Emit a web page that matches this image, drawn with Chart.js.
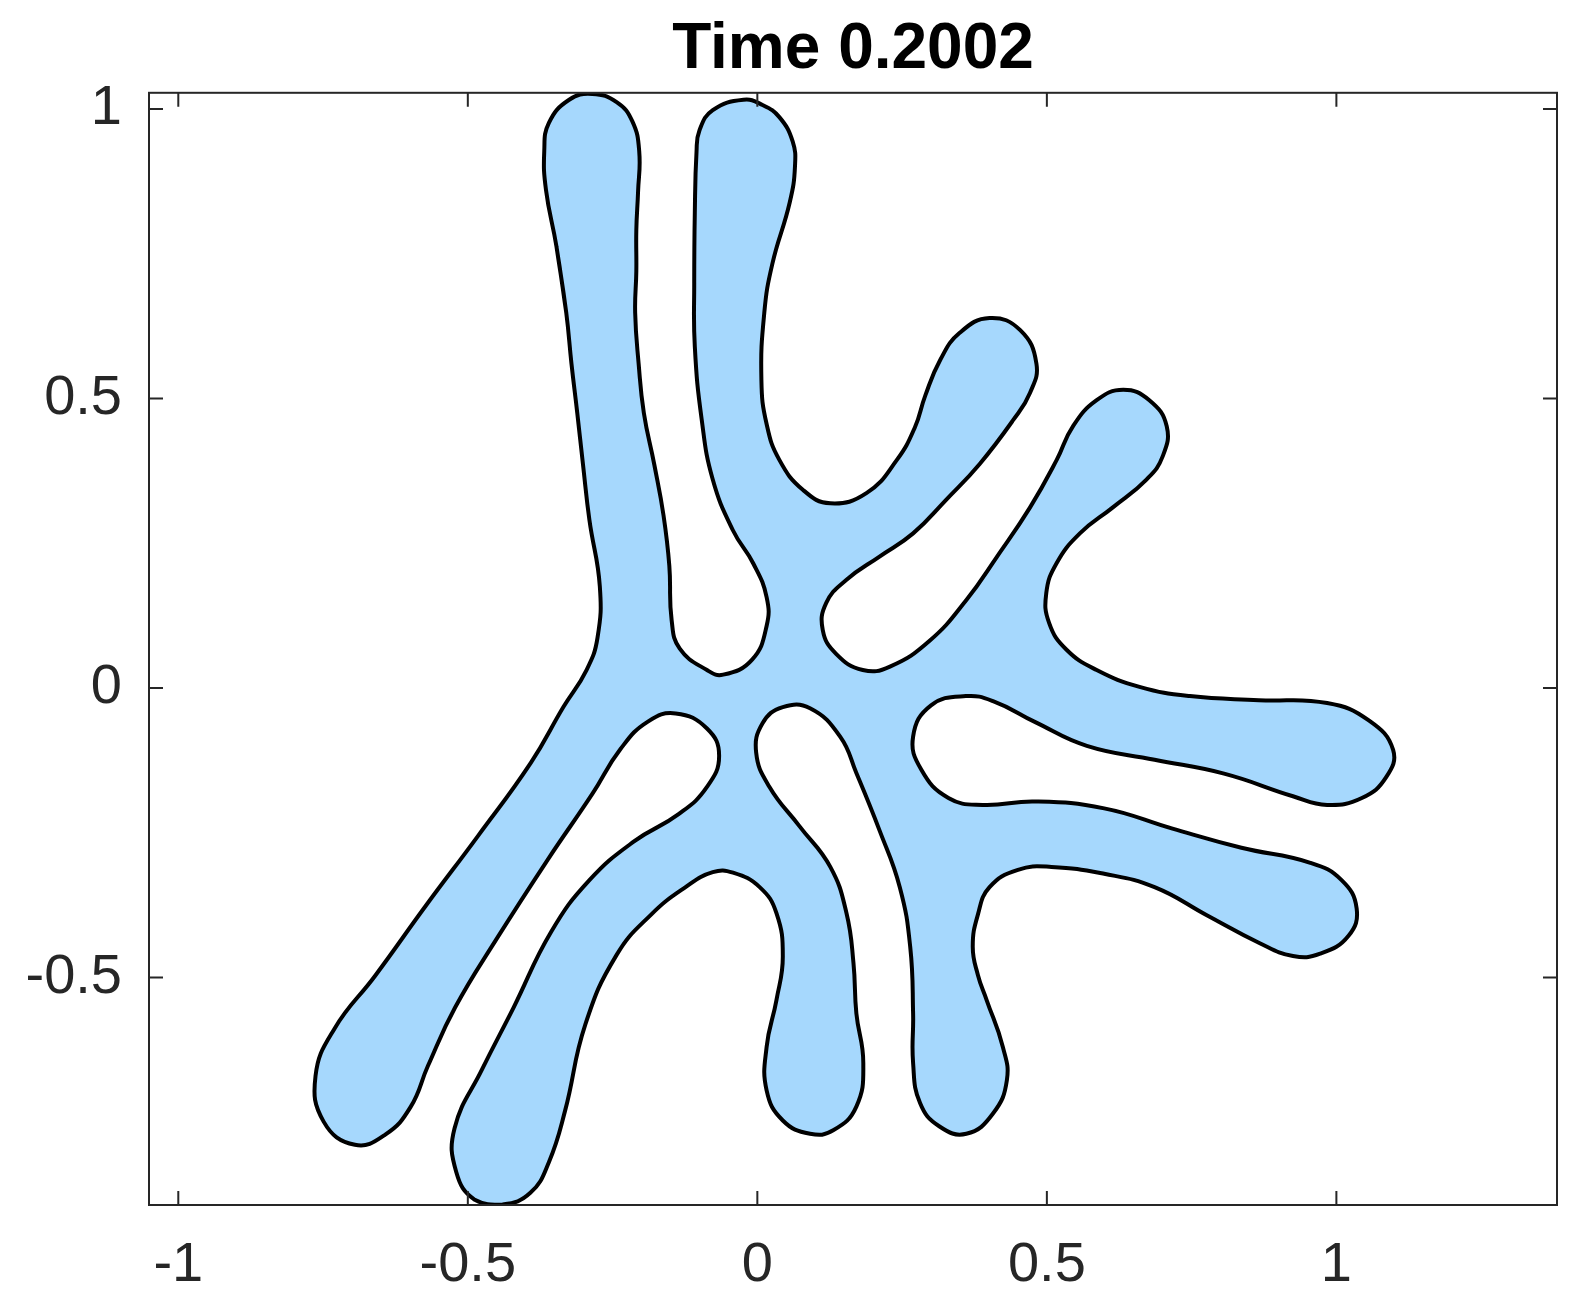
<!DOCTYPE html>
<html>
<head>
<meta charset="utf-8">
<script src="https://cdn.jsdelivr.net/npm/chart.js@4.4.0/dist/chart.umd.min.js"></script>
<style>
  html, body { margin: 0; background: #fff; }
  #wrap { width: 1584px; height: 1310px; }
</style>
</head>
<body>
<div id="wrap"><canvas id="shapeChart"></canvas></div>
<script>
// boundary of the shape, traced clockwise from the left edge of the first upper finger
const shapeX = [
  -0.330, -0.347, -0.365, -0.368, -0.360, -0.325, -0.285, -0.243, -0.216, -0.204,
  -0.206, -0.209, -0.209, -0.211, -0.205, -0.196, -0.178, -0.162, -0.152, -0.148,
  -0.134, -0.087, -0.059, -0.009, 0.016, 0.016, -0.007, -0.042, -0.077, -0.096,
  -0.108, -0.109, -0.108, -0.105, -0.100, -0.077, -0.024, 0.009, 0.038, 0.061,
  0.065, 0.056, 0.026, 0.012, 0.007, 0.016, 0.038, 0.079, 0.126, 0.189,
  0.241, 0.272, 0.290, 0.316, 0.349, 0.401, 0.454, 0.482, 0.471, 0.442,
  0.384, 0.326, 0.269, 0.211, 0.154, 0.119, 0.113, 0.136, 0.182, 0.229,
  0.298, 0.361, 0.414, 0.471, 0.517, 0.545, 0.586, 0.632, 0.677, 0.707,
  0.700, 0.672, 0.614, 0.557, 0.517, 0.499, 0.504, 0.534, 0.586, 0.660,
  0.747, 0.866, 0.984, 1.056, 1.098, 1.086, 1.044, 0.984, 0.925, 0.806,
  0.686, 0.569, 0.480, 0.408, 0.360, 0.300, 0.269, 0.283, 0.330, 0.389,
  0.480, 0.599, 0.717, 0.836, 0.955, 1.009, 1.035, 1.021, 0.972, 0.925,
  0.866, 0.777, 0.686, 0.599, 0.508, 0.450, 0.401, 0.381, 0.372, 0.381,
  0.396, 0.424, 0.431, 0.407, 0.361, 0.314, 0.281, 0.269, 0.269, 0.264,
  0.246, 0.211, 0.171, 0.143, 0.091, 0.044, 0.009, -0.002, 0.021, 0.073,
  0.126, 0.154, 0.166, 0.171, 0.183, 0.171, 0.131, 0.091, 0.044, 0.016,
  0.016, 0.033, 0.044, 0.033, 0.004, -0.042, -0.077, -0.124, -0.183, -0.243,
  -0.297, -0.332, -0.360, -0.392, -0.440, -0.488, -0.520, -0.523, -0.475, -0.421,
  -0.356, -0.290, -0.213, -0.136, -0.087, -0.066, -0.087, -0.141, -0.189, -0.236,
  -0.285, -0.361, -0.450, -0.522, -0.569, -0.599, -0.642, -0.695, -0.749, -0.763,
  -0.730, -0.660, -0.571, -0.482, -0.391, -0.335, -0.295, -0.276, -0.272, -0.290,
  -0.301, -0.311, -0.321
];
const shapeY = [
  0.648, 0.763, 0.860, 0.927, 0.976, 1.016, 1.026, 1.012, 0.979, 0.927,
  0.857, 0.791, 0.720, 0.648, 0.560, 0.475, 0.386, 0.298, 0.211, 0.117,
  0.068, 0.031, 0.023, 0.049, 0.107, 0.157, 0.215, 0.272, 0.360, 0.463,
  0.590, 0.700, 0.820, 0.927, 0.963, 0.998, 1.016, 1.007, 0.986, 0.944,
  0.901, 0.839, 0.733, 0.648, 0.532, 0.456, 0.394, 0.342, 0.319, 0.337,
  0.394, 0.450, 0.505, 0.567, 0.613, 0.639, 0.618, 0.560, 0.510, 0.463,
  0.387, 0.325, 0.267, 0.227, 0.187, 0.147, 0.100, 0.059, 0.031, 0.037,
  0.082, 0.152, 0.227, 0.312, 0.394, 0.452, 0.497, 0.515, 0.497, 0.452,
  0.400, 0.360, 0.312, 0.267, 0.216, 0.164, 0.112, 0.066, 0.031, 0.002,
  -0.014, -0.021, -0.026, -0.056, -0.107, -0.154, -0.190, -0.202, -0.187, -0.148,
  -0.124, -0.100, -0.059, -0.023, -0.014, -0.030, -0.084, -0.141, -0.190, -0.202,
  -0.196, -0.208, -0.243, -0.276, -0.302, -0.332, -0.381, -0.428, -0.459, -0.463,
  -0.440, -0.393, -0.344, -0.321, -0.309, -0.314, -0.344, -0.391, -0.447, -0.496,
  -0.539, -0.620, -0.677, -0.735, -0.770, -0.757, -0.717, -0.648, -0.562, -0.447,
  -0.344, -0.246, -0.147, -0.084, -0.035, -0.033, -0.061, -0.112, -0.171, -0.239,
  -0.309, -0.389, -0.475, -0.562, -0.648, -0.723, -0.764, -0.770, -0.747, -0.695,
  -0.620, -0.539, -0.464, -0.389, -0.344, -0.319, -0.318, -0.344, -0.391, -0.461,
  -0.581, -0.730, -0.819, -0.872, -0.892, -0.884, -0.836, -0.761, -0.658, -0.552,
  -0.421, -0.332, -0.265, -0.218, -0.171, -0.117, -0.070, -0.044, -0.058, -0.105,
  -0.183, -0.295, -0.433, -0.552, -0.653, -0.724, -0.771, -0.789, -0.749, -0.670,
  -0.588, -0.497, -0.374, -0.255, -0.129, -0.033, 0.031, 0.087, 0.175, 0.290,
  0.385, 0.475, 0.560
];

const xTicks = [-1, -0.5, 0, 0.5, 1];
const xTickLabels = ['-1', '-0.5', '0', '0.5', '1'];
const yTicks = [-0.5, 0, 0.5, 1];
const yTickLabels = ['-0.5', '0', '0.5', '1'];
const xLimits = [-1.0506, 1.381];
const yLimits = [-0.893, 1.028];
const titleText = 'Time 0.2002';

// run past the start by two points so the outline closes without a corner
const points = shapeX.map((x, i) => ({ x, y: shapeY[i] }));
points.push(points[0], points[1]);

const FONT = "'Liberation Sans', Arial, Helvetica, sans-serif";
const AXIS_COLOR = '#262626';

// MATLAB style box with inward ticks on all four sides
const axesBox = {
    id: 'axesBox',
    afterDatasetsDraw(chart) {
        const { ctx, chartArea: a, scales: { x, y } } = chart;
        const len = 14;
        ctx.save();
        ctx.strokeStyle = AXIS_COLOR;
        ctx.lineWidth = 2;
        ctx.strokeRect(a.left, a.top, a.right - a.left, a.bottom - a.top);
        ctx.beginPath();
        x.ticks.forEach(t => {
            const px = x.getPixelForValue(t.value);
            ctx.moveTo(px, a.bottom); ctx.lineTo(px, a.bottom - len);
            ctx.moveTo(px, a.top); ctx.lineTo(px, a.top + len);
        });
        y.ticks.forEach(t => {
            const py = y.getPixelForValue(t.value);
            ctx.moveTo(a.left, py); ctx.lineTo(a.left + len, py);
            ctx.moveTo(a.right, py); ctx.lineTo(a.right - len, py);
        });
        ctx.stroke();
        ctx.restore();
    }
};

new Chart(document.getElementById('shapeChart'), {
    type: 'scatter',
    data: {
        datasets: [{
            data: points,
            showLine: true,
            fill: 'shape',
            backgroundColor: 'rgb(166, 216, 253)',
            borderColor: '#000',
            borderWidth: 4,
            borderJoinStyle: 'round',
            tension: 0.45,
            pointRadius: 0,
            pointHoverRadius: 0
        }]
    },
    options: {
        responsive: true,
        maintainAspectRatio: false,
        animation: false,
        layout: { padding: { left: 0, right: 27, top: 0, bottom: 0 } },
        plugins: {
            legend: { display: false },
            tooltip: { enabled: false },
            title: {
                display: true,
                fullSize: false,
                text: titleText,
                color: '#000',
                font: { family: FONT, size: 64, weight: 'bold' },
                padding: { top: 12, bottom: 4 }
            }
        },
        scales: {
            x: {
                type: 'linear',
                min: xLimits[0],
                max: xLimits[1],
                grid: { display: false, drawTicks: false },
                border: { display: false },
                afterBuildTicks: (scale) => { scale.ticks = xTicks.map(v => ({ value: v })); },
                afterFit: (scale) => { scale.height = 105; },
                ticks: {
                    color: AXIS_COLOR,
                    font: { family: FONT, size: 56 },
                    padding: 27,
                    maxRotation: 0,
                    callback: (value) => xTickLabels[xTicks.indexOf(value)]
                }
            },
            y: {
                type: 'linear',
                min: yLimits[0],
                max: yLimits[1],
                grid: { display: false, drawTicks: false },
                border: { display: false },
                afterBuildTicks: (scale) => { scale.ticks = yTicks.map(v => ({ value: v })); },
                afterFit: (scale) => { scale.width = 149; },
                ticks: {
                    color: AXIS_COLOR,
                    font: { family: FONT, size: 56 },
                    padding: 27,
                    callback: (value) => yTickLabels[yTicks.indexOf(value)]
                }
            }
        }
    },
    plugins: [axesBox]
});
</script>
</body>
</html>
